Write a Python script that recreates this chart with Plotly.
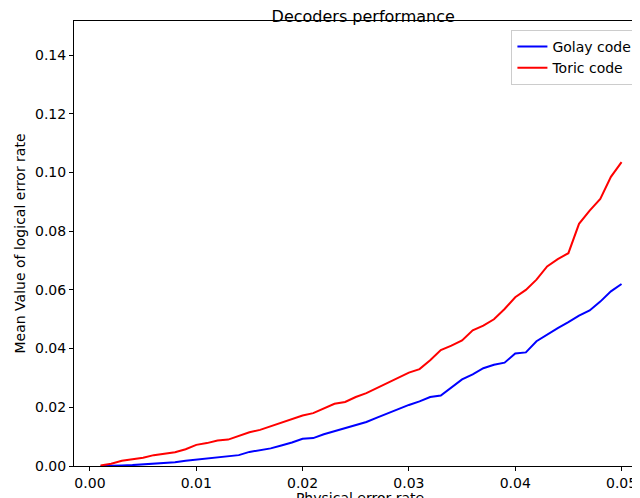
import numpy as np
import plotly.graph_objects as go

x = [round(0.001 * i, 3) for i in range(1, 51)]

golay = [0.0, 0.0, 0.0002, 0.0003, 0.0005, 0.0007, 0.001, 0.0013, 0.0018, 0.0022,
         0.0027, 0.003, 0.0033, 0.0037, 0.0048, 0.0053, 0.006, 0.007, 0.008, 0.0093,
         0.0095, 0.0108, 0.0118, 0.013, 0.0138, 0.015, 0.0165, 0.018, 0.0195, 0.0208,
         0.022, 0.0235, 0.024, 0.0268, 0.0295, 0.0312, 0.0333, 0.0345, 0.0352, 0.0383,
         0.0387, 0.0425, 0.0448, 0.047, 0.049, 0.0512, 0.053, 0.056, 0.0595, 0.062]

toric = [0.0002, 0.0008, 0.0018, 0.0022, 0.0028, 0.0037, 0.0042, 0.0047, 0.0057, 0.0072,
         0.0078, 0.0087, 0.009, 0.0103, 0.0115, 0.0123, 0.0135, 0.0148, 0.016, 0.0172,
         0.018, 0.0195, 0.0212, 0.0218, 0.0235, 0.0248, 0.0265, 0.0283, 0.03, 0.0318,
         0.033, 0.036, 0.0395, 0.041, 0.0428, 0.0462, 0.0478, 0.05, 0.0535, 0.0575,
         0.06, 0.0635, 0.068, 0.0705, 0.0725, 0.0785, 0.0825, 0.087, 0.091, 0.093]
toric[-2:] = [0.0985, 0.1035]
toric[-5:-2] = [0.0825, 0.087, 0.091]

fig = go.Figure()
fig.add_trace(go.Scatter(x=x, y=golay, mode='lines', name='Golay code',
                         line=dict(color='blue', width=2)))
fig.add_trace(go.Scatter(x=x, y=toric, mode='lines', name='Toric code',
                         line=dict(color='red', width=2)))

ax = dict(showline=True, linecolor='black', linewidth=1, mirror=True,
          ticks='outside', ticklen=4, tickcolor='black', showgrid=False,
          zeroline=False, tickfont=dict(size=14, color='black'))
fig.update_layout(
    width=640, height=498,
    margin=dict(l=66, r=2, t=13, b=40),
    plot_bgcolor='white', paper_bgcolor='white',
    font=dict(family='DejaVu Sans', color='black'),
    title=dict(text='Decoders performance', x=0.555, xanchor='center', y=0.995,
               yanchor='top', font=dict(size=16)),
    xaxis=dict(ax, range=[-0.0015, 0.0523], tickvals=[0, 0.01, 0.02, 0.03, 0.04, 0.05],
               ticktext=['0.00', '0.01', '0.02', '0.03', '0.04', '0.05'],
               title=dict(text='Physical error rate', font=dict(size=14), standoff=4)),
    yaxis=dict(ax, range=[0, 0.1516], tickvals=[0, 0.02, 0.04, 0.06, 0.08, 0.1, 0.12, 0.14],
               ticktext=['0.00', '0.02', '0.04', '0.06', '0.08', '0.10', '0.12', '0.14'],
               title=dict(text='Mean Value of logical error rate', font=dict(size=14), standoff=6)),
    legend=dict(x=0.985, y=0.98, xanchor='right', yanchor='top', bordercolor='#cccccc',
                borderwidth=1, font=dict(size=14), bgcolor='white'),
)
fig.write_html("out.html")
